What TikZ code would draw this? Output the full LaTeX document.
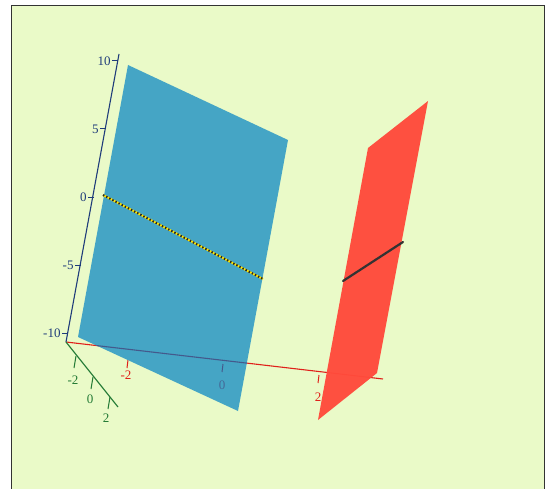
\documentclass[tikz,border=0pt]{standalone}
\usepackage{fontspec}
\setmainfont{Liberation Serif}
\usetikzlibrary{positioning}
\definecolor{bgcol}{HTML}{EAFAC8}
\definecolor{bluepl}{HTML}{45A5C5}
\definecolor{redpl}{HTML}{FF4B3C}
\definecolor{zcol}{HTML}{1F3C7A}
\definecolor{xcol}{HTML}{E0201A}
\definecolor{xunder}{HTML}{44598C}
\definecolor{ycol}{HTML}{237A35}
\begin{document}
\begin{tikzpicture}[
  x=1pt, y=-1pt,
  every node/.style={font=\fontsize{13}{15}\selectfont, inner sep=0pt},
  axis/.style={line width=1.1pt},
  tick/.style={line width=1pt},
  zlab/.style={text=zcol},
  xlab/.style={text=xcol},
  ylab/.style={text=ycol}
]
\useasboundingbox (0,0) rectangle (548,489);

% frame
\fill[bgcol] (11,5) rectangle (544,489);
\draw[black!80, line width=0.8pt] (11,492) -- (11,5) -- (544,5) -- (544,492);

% axes end points
\coordinate (o) at (66,342);
\coordinate (xend) at (383,379);
\coordinate (yend) at (118,407);
\coordinate (zend) at (119,54);

% x axis (under the planes)
\draw[axis, xcol] (o) -- (xend);
\draw[tick, xcol] (128,360) -- (127,368);
\draw[tick, xcol] (319,375) -- (318,383);
\node[xlab] (xm2) at (126,375) {-2};
\node[xlab] (x2) at (318,397) {2};

% blue plane
\fill[bluepl] (128,65) -- (288,140) -- (238,411) -- (78,337) -- cycle;
% x axis seen through the blue plane
\begin{scope}
  \clip (128,65) -- (288,140) -- (238,411) -- (78,337) -- cycle;
  \draw[axis, xunder] (o) -- (xend);
  \draw[tick, xunder] (223,364) -- (222,372);
  \node[text=xunder!80!bluepl] (x0) at (222,385) {0};
\end{scope}

% red plane
\fill[redpl, opacity=0.97] (428,101) -- (368,148) -- (318,420) -- (377,373) -- cycle;

% intersection lines
\coordinate (ba) at (103,195);
\coordinate (bb) at (263,279);
\draw[yellow!90!orange, line width=2pt] (ba) -- (bb);
\draw[black!85, line width=2pt, dash pattern=on 1.5pt off 2pt] (ba) -- (bb);
\coordinate (ra) at (343,281);
\coordinate (rb) at (403,242);
\draw[black!80, line width=2.2pt, line cap=round] (ra) -- (rb);

% z axis
\draw[axis, zcol] (o) -- (zend);
\foreach \yy/\xx/\t in {61/118/10, 129/106/5, 197/94/0, 265/81/-5, 333/68/-10}
  \draw[tick, zcol] (\xx,\yy) -- ++(-6,0) node[left=1pt, zlab] {\t};

% y axis
\draw[axis, ycol] (o) -- (yend);
\draw[tick, ycol] (76,356) -- (74,368);
\draw[tick, ycol] (93,377) -- (91,389);
\draw[tick, ycol] (110,397) -- (108,409);
\node[ylab] (ym2) at (73,380) {-2};
\node[ylab] (y0) at (90,399) {0};
\node[ylab] (y2) at (106,418) {2};

\end{tikzpicture}
\end{document}
